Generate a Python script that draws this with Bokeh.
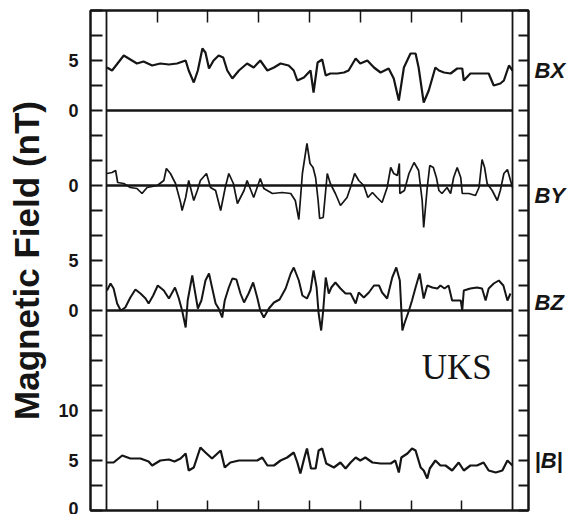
from bokeh.plotting import figure
from bokeh.models import Range1d, LinearAxis, FixedTicker, Span, Label
from bokeh.embed import file_html
from bokeh.resources import INLINE

# ---------------- data (time in hours across the panel, field in nT) ----------------
bx_t = [0.01, 0.11, 0.34, 0.47, 0.60, 0.73, 0.90, 1.06, 1.23, 1.39, 1.56, 1.62, 1.72, 1.80, 1.89,
        1.95, 2.02, 2.11, 2.21, 2.30, 2.38, 2.48, 2.61, 2.77, 2.90, 3.03, 3.17, 3.30, 3.43, 3.59,
        3.69, 3.76, 3.89, 4.02, 4.08, 4.16, 4.25, 4.32, 4.41, 4.55, 4.68, 4.77, 4.91, 5.00, 5.14,
        5.27, 5.40, 5.56, 5.66, 5.76, 5.86, 5.99, 6.09, 6.15, 6.25, 6.35, 6.48, 6.55, 6.65, 6.78,
        6.91, 7.01, 7.04, 7.17, 7.37, 7.53, 7.63, 7.76, 7.83, 7.93, 8.00]
bx_nT = [4.3, 4.0, 5.5, 5.1, 4.7, 4.9, 4.5, 4.7, 4.6, 4.7, 5.0, 4.0, 2.8, 4.0, 6.2,
         5.8, 4.2, 5.0, 5.5, 5.3, 4.0, 3.2, 4.0, 4.7, 4.3, 5.0, 4.0, 4.3, 4.7, 4.5,
         4.0, 3.0, 3.3, 4.0, 1.8, 4.8, 5.1, 3.5, 3.7, 3.7, 3.8, 4.0, 5.2, 4.7, 5.0,
         4.3, 3.8, 4.2, 3.2, 1.0, 4.3, 5.7, 5.7, 4.3, 0.8, 2.0, 4.3, 4.0, 3.8, 3.7,
         4.2, 4.2, 3.0, 3.7, 3.7, 3.7, 2.5, 2.7, 3.0, 4.5, 4.0]

by_t = [0.01, 0.11, 0.18, 0.22, 0.34, 0.47, 0.60, 0.70, 0.80, 1.00, 1.13, 1.18, 1.26, 1.36, 1.46,
        1.49, 1.56, 1.62, 1.72, 1.79, 1.85, 1.97, 2.05, 2.15, 2.25, 2.34, 2.41, 2.50, 2.58, 2.71,
        2.77, 2.90, 3.03, 3.10, 3.27, 3.46, 3.63, 3.72, 3.79, 3.86, 3.95, 4.01, 4.07, 4.12, 4.17,
        4.20, 4.27, 4.35, 4.41, 4.51, 4.61, 4.74, 4.82, 4.89, 4.97, 5.07, 5.15, 5.24, 5.33, 5.43,
        5.53, 5.60, 5.66, 5.73, 5.77, 5.78, 5.87, 5.96, 6.06, 6.15, 6.22, 6.25, 6.32, 6.37, 6.44,
        6.50, 6.55, 6.61, 6.71, 6.78, 6.84, 6.91, 6.98, 7.01, 7.14, 7.27, 7.34, 7.40, 7.45, 7.50,
        7.60, 7.70, 7.76, 7.83, 7.90, 7.96, 8.00]
by_nT = [1.2, 1.3, 1.5, 0.3, 0.2, -0.2, -0.3, -0.8, -0.2, 0.0, 0.5, 1.7, 1.2, 0.2, -1.7,
         -2.5, -1.2, 0.5, -1.5, -0.5, 0.5, 1.2, -0.2, -0.5, -2.5, -0.2, 1.2, 0.2, -1.8, -0.5,
         0.5, -1.2, 0.7, -0.3, -0.8, -0.7, -0.8, -1.5, -3.4, 1.2, 4.2, 2.2, 1.8, 0.8, -1.5,
         -3.3, -3.2, 1.2, 0.2, -0.8, -2.0, -1.2, 0.0, 1.2, 0.5, 0.0, -1.2, -0.7, -1.2, -1.7,
         -0.2, 1.8, 1.2, 1.0, 2.2, -0.8, -0.5, 1.2, 2.3, 1.5, -1.5, -4.2, -0.2, 2.0, 1.8,
         0.8, -0.5, -0.8, -0.2, -0.8, 0.8, 1.8, 0.8, -0.8, -0.8, -1.0, -0.2, 2.6, 1.8, 0.2,
         -0.5, -1.5, -0.5, 1.2, 1.6, 0.5, -0.2]

bz_t = [0.01, 0.08, 0.14, 0.21, 0.28, 0.37, 0.47, 0.57, 0.67, 0.77, 0.83, 0.92, 1.01, 1.13, 1.23,
        1.35, 1.42, 1.49, 1.56, 1.60, 1.69, 1.75, 1.80, 1.87, 1.95, 2.02, 2.08, 2.15, 2.21, 2.28,
        2.33, 2.41, 2.48, 2.56, 2.64, 2.71, 2.80, 2.89, 2.97, 3.03, 3.10, 3.20, 3.30, 3.41, 3.53,
        3.63, 3.69, 3.79, 3.86, 3.95, 4.02, 4.08, 4.14, 4.18, 4.23, 4.27, 4.32, 4.38, 4.43, 4.51,
        4.61, 4.71, 4.81, 4.91, 4.97, 5.07, 5.17, 5.27, 5.37, 5.43, 5.53, 5.63, 5.71, 5.78, 5.83,
        5.87, 5.96, 6.02, 6.09, 6.17, 6.25, 6.32, 6.42, 6.52, 6.58, 6.66, 6.74, 6.81, 6.98, 7.01,
        7.04, 7.17, 7.30, 7.40, 7.47, 7.53, 7.63, 7.73, 7.82, 7.90, 7.96]
bz_nT = [2.0, 2.7, 2.2, 0.7, 0.0, 0.3, 1.3, 2.1, 1.7, 1.2, 0.7, 1.5, 2.5, 2.0, 1.2,
         2.3, 1.3, 0.0, -1.7, 1.0, 3.5, 1.7, 0.2, 1.0, 3.0, 3.7, 2.3, 0.7, 0.2, -0.7,
         1.0, 2.3, 3.2, 3.1, 1.7, 0.8, 1.7, 2.8, 1.3, 0.0, -0.7, 0.2, 0.8, 1.1, 2.2,
         3.7, 4.3, 3.0, 1.5, 1.2, 2.0, 4.0, 2.3, -0.3, -2.0, 0.0, 3.3, 1.7, 2.3, 2.8,
         2.2, 1.7, 1.7, 0.7, 1.8, 1.3, 1.8, 2.5, 2.5, 1.8, 1.2, 3.3, 4.3, 3.0, -2.0,
         -1.3, 0.0, 1.0, 2.3, 3.7, 1.2, 2.5, 2.3, 2.2, 2.5, 2.2, 2.5, 1.0, 1.0, 0.0,
         2.0, 2.2, 2.3, 2.2, 1.0, 2.2, 2.7, 3.0, 2.5, 1.0, 1.7]

bt_t = [0.01, 0.14, 0.31, 0.47, 0.67, 0.83, 0.90, 1.06, 1.23, 1.34, 1.46, 1.56, 1.62, 1.72, 1.85,
        1.95, 2.08, 2.25, 2.33, 2.44, 2.61, 2.77, 2.97, 3.07, 3.17, 3.30, 3.43, 3.56, 3.69, 3.76,
        3.82, 3.90, 3.95, 4.03, 4.12, 4.18, 4.25, 4.33, 4.48, 4.61, 4.71, 4.81, 4.91, 5.00, 5.10,
        5.24, 5.40, 5.60, 5.69, 5.76, 5.81, 5.93, 6.02, 6.09, 6.19, 6.25, 6.32, 6.37, 6.48, 6.58,
        6.68, 6.81, 6.94, 7.04, 7.17, 7.30, 7.43, 7.53, 7.67, 7.80, 7.90, 8.00]
bt_nT = [4.8, 4.8, 5.5, 5.2, 5.2, 4.9, 4.5, 5.0, 5.1, 4.9, 5.2, 5.7, 4.0, 4.3, 6.3,
         5.8, 5.2, 6.0, 4.3, 4.8, 5.0, 5.0, 5.0, 5.3, 4.5, 4.5, 5.0, 5.3, 5.8, 4.8,
         3.7, 5.3, 6.2, 4.2, 4.2, 6.0, 6.2, 4.7, 4.3, 4.8, 4.2, 4.8, 5.3, 5.0, 5.3,
         4.8, 4.7, 4.7, 5.0, 3.8, 5.3, 5.7, 6.2, 6.0, 4.3, 4.0, 3.2, 4.2, 5.0, 4.5,
         4.5, 4.0, 4.8, 4.0, 4.5, 4.5, 4.8, 4.0, 3.8, 4.0, 5.0, 4.5]

# axis ticks and labels
y_ticks = [0, 2.5, 5, 7.5, 10, 12.5, 15, 17.5, 20, 22.5, 25, 27.5, 30, 32.5, 35, 37.5,
           40, 42.5, 45, 47.5, 50]
y_tick_labels = {45: "5", 40: "0", 32.5: "0", 25: "5", 20: "0", 10: "10", 5: "5", 0: "0"}
x_ticks = [1, 2, 3, 4, 5, 6, 7]
component_names = ["BX", "BY", "BZ", "|B|"]
component_label_pos = [44, 31.5, 20.8, 5]

INK = "#151515"

p = figure(frame_width=438, frame_height=500,
           x_range=Range1d(-0.315, 8.315), y_range=Range1d(0, 50),
           x_axis_type=None, y_axis_type=None,
           toolbar_location=None, output_backend="svg",
           min_border_left=90, min_border_right=53, min_border_top=10, min_border_bottom=4,
           background_fill_color="white", border_fill_color="white")
p.outline_line_color = INK
p.outline_line_width = 2

# per-panel scales: zero of each component sits at its own baseline
p.extra_y_ranges = {
    "bx": Range1d(-40, 10),
    "by": Range1d(-32.5, 17.5),
    "bz": Range1d(-20, 30),
}

# left axis
left = LinearAxis(ticker=FixedTicker(ticks=y_ticks, minor_ticks=[]))
left.major_tick_in = 12
left.major_tick_out = 0
left.minor_tick_in = 0
left.minor_tick_out = 0
left.axis_line_color = INK
left.axis_line_width = 2
left.major_tick_line_color = INK
left.major_tick_line_width = 2
left.major_label_overrides = {t: y_tick_labels.get(t, "") for t in y_ticks}
left.major_label_standoff = 12
left.major_label_text_font = "Liberation Sans"
left.major_label_text_font_style = "bold"
left.major_label_text_font_size = "18px"
left.major_label_text_color = INK
left.axis_label = "Magnetic Field (nT)"
left.axis_label_text_font = "Liberation Sans"
left.axis_label_text_font_style = "bold"
left.axis_label_text_font_size = "35px"
left.axis_label_text_color = INK
left.axis_label_standoff = 9
p.add_layout(left, "left")

# right axis: minor ticks for the grid, labels for the components
right = LinearAxis(ticker=FixedTicker(ticks=component_label_pos, minor_ticks=y_ticks))
right.major_tick_in = 0
right.major_tick_out = 0
right.minor_tick_in = 10
right.minor_tick_out = 0
right.minor_tick_line_color = INK
right.minor_tick_line_width = 2
right.axis_line_color = INK
right.axis_line_width = 2
right.major_label_overrides = dict(zip(component_label_pos, component_names))
right.major_label_standoff = 6
right.major_label_text_font = "Liberation Sans"
right.major_label_text_font_style = "bold italic"
right.major_label_text_font_size = "22px"
right.major_label_text_color = INK
p.add_layout(right, "right")

for loc, tin in (("above", 12), ("below", 10)):
    ax = LinearAxis(ticker=FixedTicker(ticks=x_ticks, minor_ticks=[]))
    ax.major_tick_in = tin
    ax.major_tick_out = 0
    ax.minor_tick_in = 0
    ax.minor_tick_out = 0
    ax.major_tick_line_color = INK
    ax.major_tick_line_width = 1.5
    ax.axis_line_color = INK
    ax.axis_line_width = 2
    ax.major_label_overrides = {t: "" for t in x_ticks}
    ax.major_label_text_font_size = "0px"
    ax.major_label_standoff = 0
    p.add_layout(ax, loc)

# inner frame edges at start and end of record
for edge in (0, 8):
    p.add_layout(Span(location=edge, dimension="height", line_color=INK, line_width=1.8))

# zero lines of each component
x_span = [0, 8]
for rn in ("bx", "by", "bz"):
    p.line(x_span, [0, 0], y_range_name=rn, line_color=INK, line_width=2.5)

p.line(bx_t, bx_nT, y_range_name="bx", line_color=INK, line_width=2.2)
p.line(by_t, by_nT, y_range_name="by", line_color=INK, line_width=1.7)
p.line(bz_t, bz_nT, y_range_name="bz", line_color=INK, line_width=2)
p.line(bt_t, bt_nT, line_color=INK, line_width=2.2)

p.add_layout(Label(x=6.9, y=14.3, text="UKS", text_font="Liberation Serif",
                   text_font_size="35px", text_color=INK,
                   text_align="center", text_baseline="middle"))

open("out.html", "w").write(file_html(p, INLINE))
